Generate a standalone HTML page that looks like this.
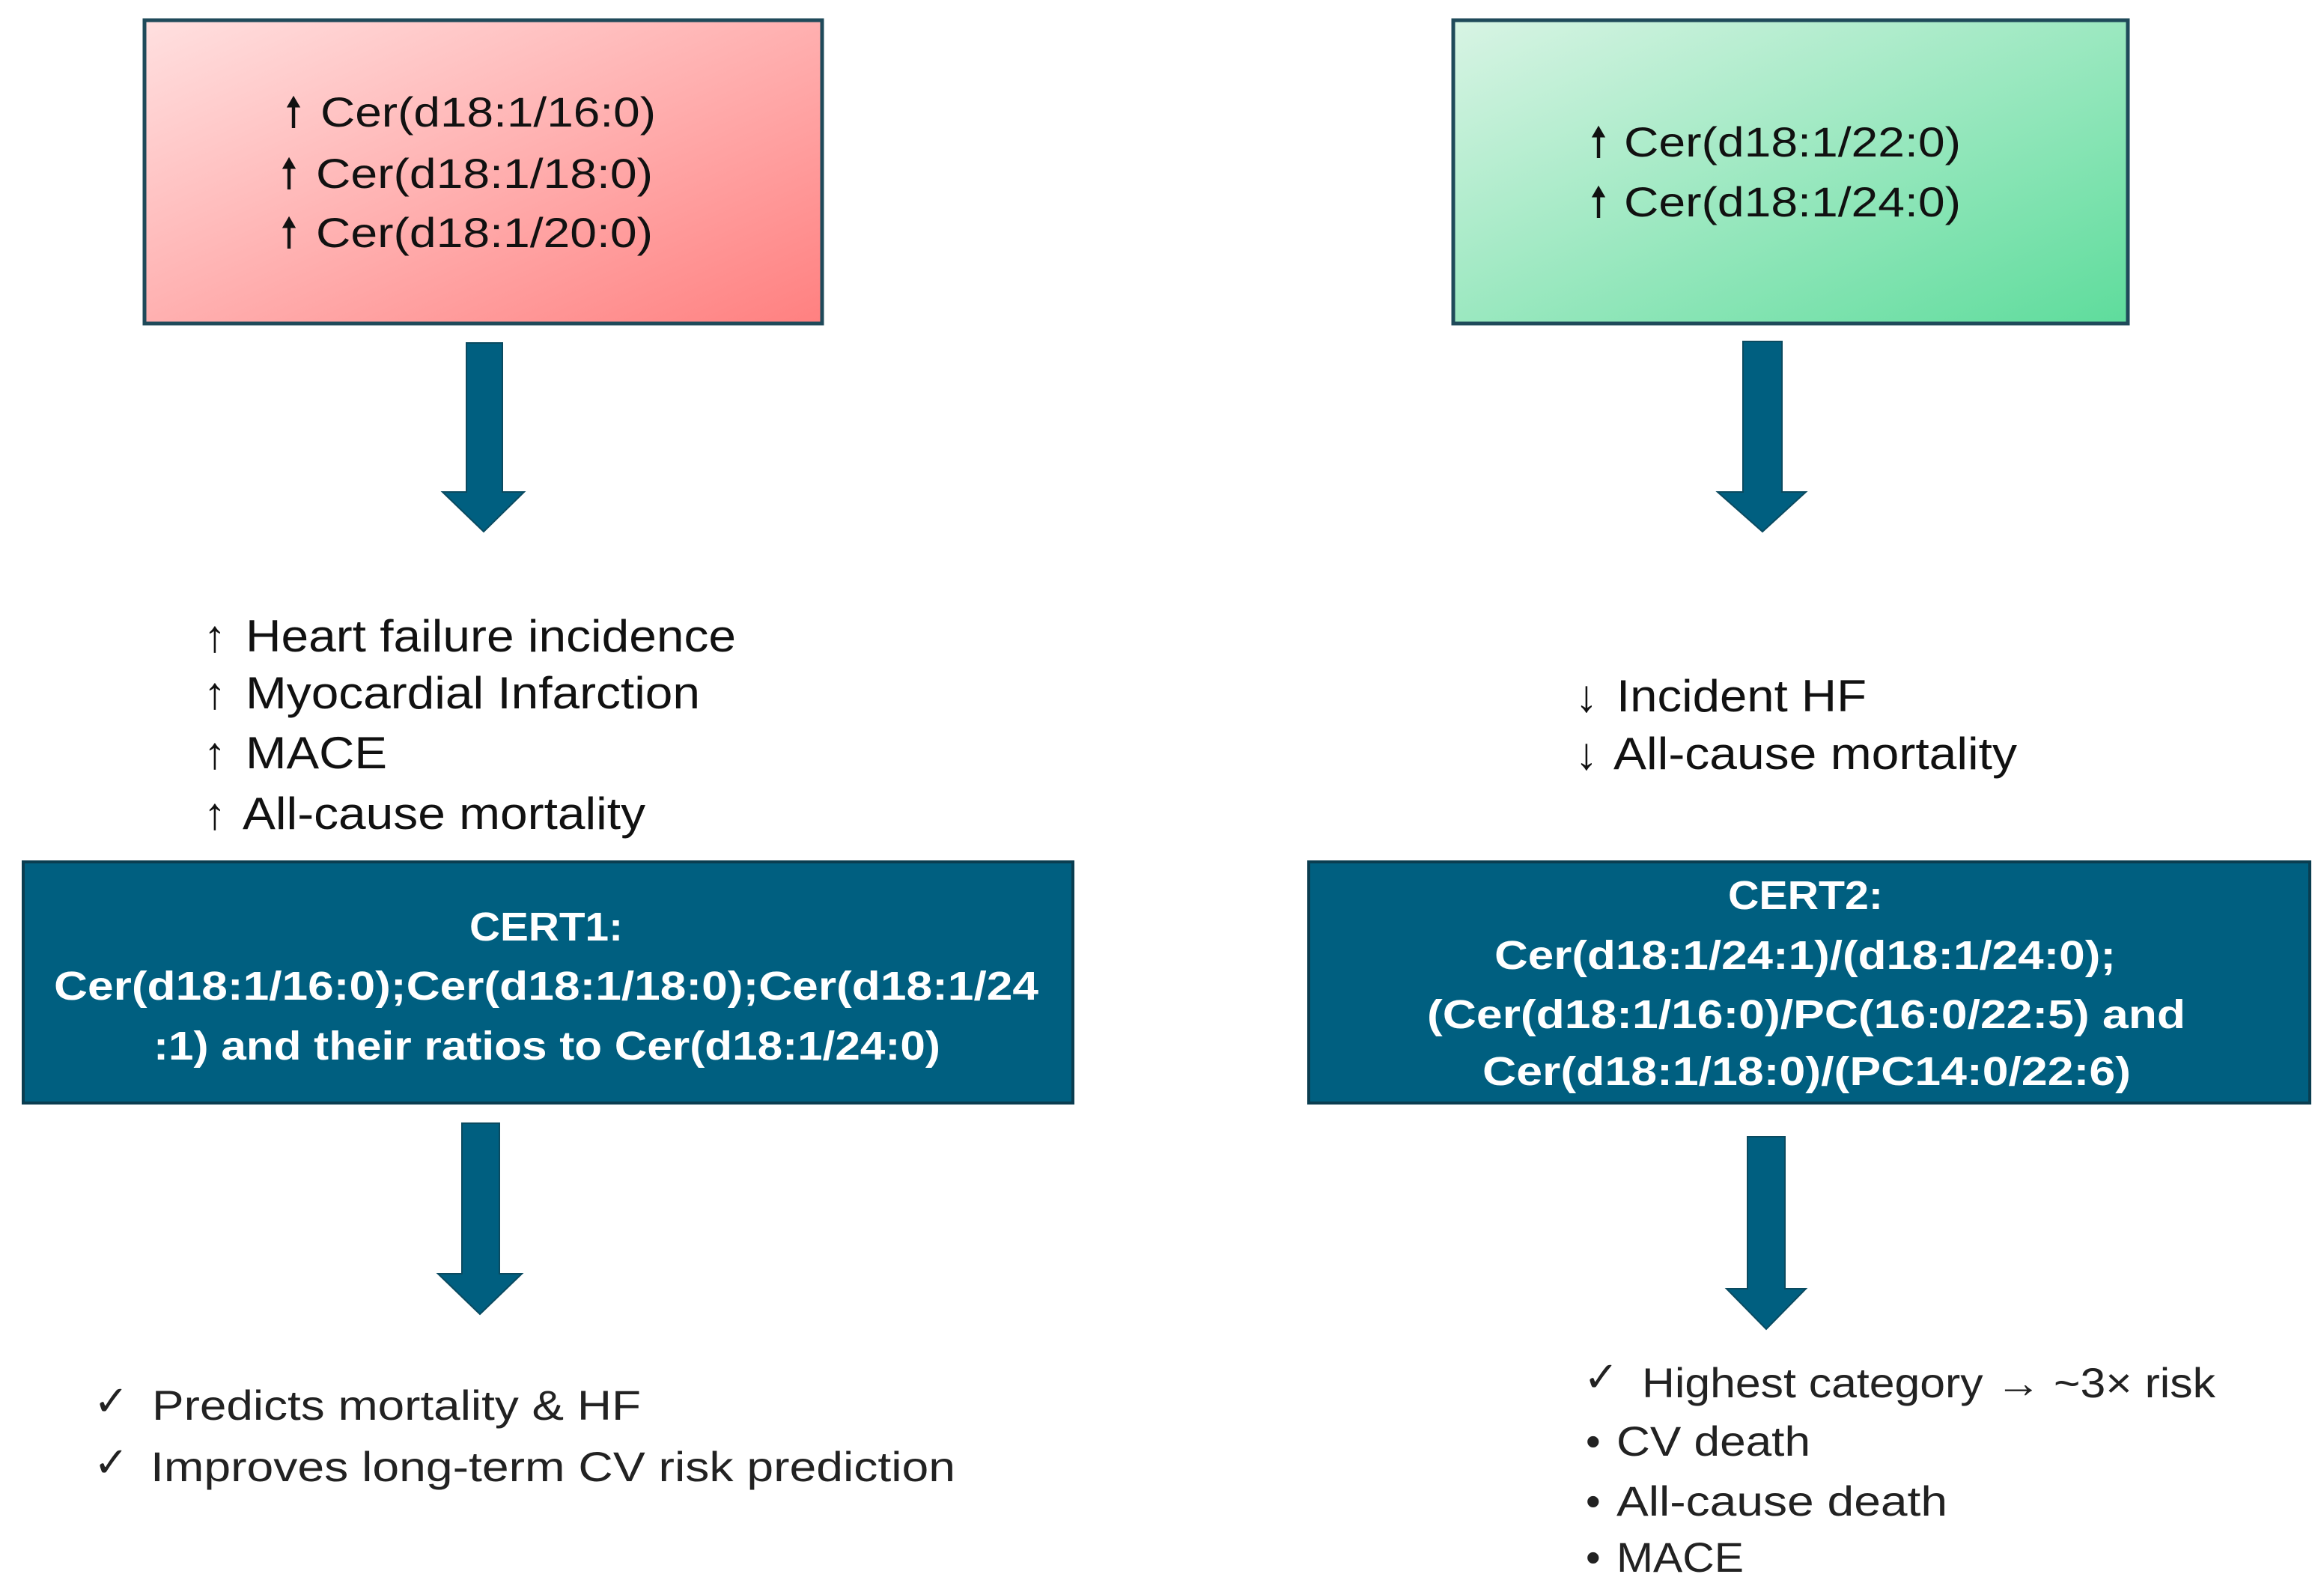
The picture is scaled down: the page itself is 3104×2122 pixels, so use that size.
<!DOCTYPE html>
<html><head><meta charset="utf-8"><style>
html,body{margin:0;padding:0;background:#fff;}
svg{display:block;}
text{font-family:"Liberation Sans",sans-serif;}
</style></head><body>
<svg width="3104" height="2122" viewBox="0 0 3104 2122" xmlns="http://www.w3.org/2000/svg">
<defs>
<linearGradient id="r" x1="0" y1="0" x2="1" y2="1"><stop offset="0" stop-color="#ffe0e0"/><stop offset="1" stop-color="#ff8080"/></linearGradient>
<linearGradient id="g" x1="0" y1="0" x2="1" y2="1"><stop offset="0" stop-color="#d8f4e4"/><stop offset="1" stop-color="#5edc9c"/></linearGradient>
</defs>
<rect x="193" y="27" width="905" height="405" fill="url(#r)" stroke="#1f4a5a" stroke-width="5"/>
<rect x="1941" y="27" width="901" height="405" fill="url(#g)" stroke="#1f4a5a" stroke-width="5"/>
<g font-size="56" fill="#111">
<text x="380" y="169">&#129045;</text>
<text x="428" y="169" textLength="448" lengthAdjust="spacingAndGlyphs">Cer(d18:1/16:0)</text>
<text x="374" y="251">&#129045;</text>
<text x="422" y="251" textLength="450" lengthAdjust="spacingAndGlyphs">Cer(d18:1/18:0)</text>
<text x="374" y="330">&#129045;</text>
<text x="422" y="330" textLength="450" lengthAdjust="spacingAndGlyphs">Cer(d18:1/20:0)</text>
<text x="2123" y="209">&#129045;</text>
<text x="2169" y="209" textLength="450" lengthAdjust="spacingAndGlyphs">Cer(d18:1/22:0)</text>
<text x="2123" y="289">&#129045;</text>
<text x="2169" y="289" textLength="450" lengthAdjust="spacingAndGlyphs">Cer(d18:1/24:0)</text>
</g>
<g fill="#005f80" stroke="#0a4a60" stroke-width="2">
<polygon points="623,458 671,458 671,657 700,657 646,710 591,657 623,657"/>
<polygon points="2328,456 2380,456 2380,657 2412,657 2354,710 2294,657 2328,657"/>
<polygon points="617,1500 667,1500 667,1701 697,1701 641,1755 585,1701 617,1701"/>
<polygon points="2334,1518 2384,1518 2384,1721 2412,1721 2359,1775 2306,1721 2334,1721"/>
</g>
<g font-size="60" fill="#111">
<text x="272" y="870">↑</text><text x="328" y="870" textLength="655" lengthAdjust="spacingAndGlyphs">Heart failure incidence</text>
<text x="272" y="946">↑</text><text x="328" y="946" textLength="607" lengthAdjust="spacingAndGlyphs">Myocardial Infarction</text>
<text x="272" y="1026">↑</text><text x="328" y="1026" textLength="189" lengthAdjust="spacingAndGlyphs">MACE</text>
<text x="272" y="1107">↑</text><text x="324" y="1107" textLength="538" lengthAdjust="spacingAndGlyphs">All-cause mortality</text>
<text x="2104" y="950">↓</text><text x="2159" y="950" textLength="334" lengthAdjust="spacingAndGlyphs">Incident HF</text>
<text x="2104" y="1027">↓</text><text x="2155" y="1027" textLength="539" lengthAdjust="spacingAndGlyphs">All-cause mortality</text>
</g>
<rect x="31" y="1151" width="1402" height="322" fill="#005f80" stroke="#0a3d50" stroke-width="4"/>
<rect x="1748" y="1151" width="1337" height="322" fill="#005f80" stroke="#0a3d50" stroke-width="4"/>
<g font-size="54" font-weight="bold" fill="#fff">
<text x="627" y="1256" textLength="205" lengthAdjust="spacingAndGlyphs">CERT1:</text>
<text x="72" y="1335" textLength="1315" lengthAdjust="spacingAndGlyphs">Cer(d18:1/16:0);Cer(d18:1/18:0);Cer(d18:1/24</text>
<text x="205" y="1415" textLength="1051" lengthAdjust="spacingAndGlyphs">:1) and their ratios to Cer(d18:1/24:0)</text>
<text x="2308" y="1214" textLength="207" lengthAdjust="spacingAndGlyphs">CERT2:</text>
<text x="1996" y="1294" textLength="830" lengthAdjust="spacingAndGlyphs">Cer(d18:1/24:1)/(d18:1/24:0);</text>
<text x="1906" y="1373" textLength="1013" lengthAdjust="spacingAndGlyphs">(Cer(d18:1/16:0)/PC(16:0/22:5) and</text>
<text x="1980" y="1449" textLength="866" lengthAdjust="spacingAndGlyphs">Cer(d18:1/18:0)/(PC14:0/22:6)</text>
</g>
<g font-size="56" fill="#222">
<text x="125" y="1890">✓</text><text x="203" y="1896" textLength="653" lengthAdjust="spacingAndGlyphs">Predicts mortality &amp; HF</text>
<text x="125" y="1972">✓</text><text x="201" y="1978" textLength="1075" lengthAdjust="spacingAndGlyphs">Improves long-term CV risk prediction</text>
<text x="2115" y="1858">✓</text><text x="2193" y="1866" textLength="766" lengthAdjust="spacingAndGlyphs">Highest category → ~3× risk</text>
<text x="2118" y="1944">•</text><text x="2159" y="1944" textLength="259" lengthAdjust="spacingAndGlyphs">CV death</text>
<text x="2118" y="2024">•</text><text x="2159" y="2024" textLength="442" lengthAdjust="spacingAndGlyphs">All-cause death</text>
<text x="2118" y="2099">•</text><text x="2159" y="2099" textLength="170" lengthAdjust="spacingAndGlyphs">MACE</text>
</g>
</svg>
</body></html>
